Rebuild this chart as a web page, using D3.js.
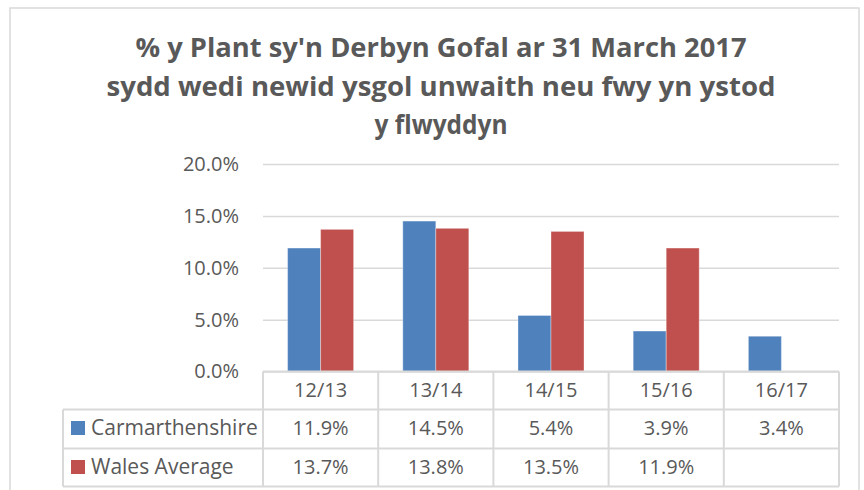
<!DOCTYPE html>
<html>
<head>
<meta charset="utf-8">
<script src="https://cdn.jsdelivr.net/npm/d3@7"></script>
<style>
  html, body { margin: 0; padding: 0; background: #ffffff; }
  svg { display: block; }
  text { font-family: "Open Sans", "Noto Sans", sans-serif; fill: #595959; }
</style>
</head>
<body>
<svg id="chart" width="864" height="490"></svg>
<script>
// ---- data ----
const categories = ["12/13", "13/14", "14/15", "15/16", "16/17"];
const carmarthenshire = [11.9, 14.5, 5.4, 3.9, 3.4];
const walesAverage = [13.7, 13.8, 13.5, 11.9, null];
const seriesNames = ["Carmarthenshire", "Wales Average"];
const seriesColors = ["#4f81bd", "#c0504d"];
const yTicks = [0, 5, 10, 15, 20];
const titleLines = [
  "% y Plant sy'n Derbyn Gofal ar 31 March 2017",
  "sydd wedi newid ysgol unwaith neu fwy yn ystod",
  "y flwyddyn"
];

const series = [carmarthenshire, walesAverage];

const svg = d3.select("#chart");
const W = 864, H = 490;

// outer chart border
svg.append("rect")
  .attr("x", 10).attr("y", 8).attr("width", 849).attr("height", 495)
  .attr("fill", "#fff").attr("stroke", "#d9d9d9").attr("stroke-width", 1.5);

// title
const titleWidths = [611, 669, 133];
const titleG = svg.append("g");
titleLines.forEach((t, i) => {
  titleG.append("text")
    .attr("x", 441).attr("y", 57 + i * 38.5)
    .attr("text-anchor", "middle")
    .attr("font-size", 27).attr("font-weight", "bold")
    .attr("textLength", titleWidths[i])
    .attr("lengthAdjust", "spacingAndGlyphs")
    .text(t);
});

// scales
const plotLeft = 263, plotRight = 839, plotTop = 164, plotBottom = 371.5;
const x = d3.scaleBand().domain(categories).range([plotLeft, plotRight]).paddingInner(0).paddingOuter(0);
const x1 = d3.scaleBand().domain(seriesNames).range([0, x.bandwidth()]).paddingInner(0).paddingOuter(0.745);
const y = d3.scaleLinear().domain([0, 20]).range([plotBottom, plotTop]);

// y axis with gridlines
const yAxis = d3.axisLeft(y)
  .tickValues(yTicks)
  .tickFormat(d => d.toFixed(1) + "%")
  .tickSize(-(plotRight - plotLeft))
  .tickPadding(24);
const yg = svg.append("g").attr("transform", `translate(${plotLeft},0)`).call(yAxis);
yg.select(".domain").remove();
yg.selectAll(".tick line").attr("stroke", "#d9d9d9").attr("stroke-width", 1.5);
yg.selectAll(".tick text")
  .attr("font-size", 20).attr("fill", "#595959")
  .style("font-family", '"Open Sans", "Noto Sans", sans-serif');

// bars
const groups = svg.append("g").selectAll("g")
  .data(categories).join("g")
  .attr("transform", d => `translate(${x(d)},0)`);
groups.selectAll("rect")
  .data((d, i) => seriesNames.map((s, k) => ({ s, k, v: series[k][i] })).filter(e => e.v !== null))
  .join("rect")
  .attr("x", e => x1(e.s))
  .attr("width", x1.bandwidth())
  .attr("y", e => y(e.v))
  .attr("height", e => y(0) - y(e.v))
  .attr("fill", e => seriesColors[e.k])
  .attr("stroke", "#ffffff").attr("stroke-opacity", 0.35).attr("stroke-width", 1);

// data table
const rowTops = [plotBottom, 409.5, 448.5, 486.5];
const tableLeft = 63;
const lineColor = "#d9d9d9";
const tg = svg.append("g");
// horizontal lines
tg.append("line").attr("x1", plotLeft).attr("x2", plotRight).attr("y1", rowTops[0]).attr("y2", rowTops[0]);
[1, 2, 3].forEach(r => {
  tg.append("line").attr("x1", tableLeft).attr("x2", plotRight).attr("y1", rowTops[r]).attr("y2", rowTops[r]);
});
// vertical lines
categories.forEach(c => {
  tg.append("line").attr("x1", x(c)).attr("x2", x(c)).attr("y1", rowTops[0]).attr("y2", rowTops[3]);
});
tg.append("line").attr("x1", plotRight).attr("x2", plotRight).attr("y1", rowTops[0]).attr("y2", rowTops[3]);
tg.append("line").attr("x1", tableLeft).attr("x2", tableLeft).attr("y1", rowTops[1]).attr("y2", rowTops[3]);
tg.selectAll("line").attr("stroke", lineColor).attr("stroke-width", 2);

// header labels
categories.forEach(c => {
  tg.append("text")
    .attr("x", x(c) + x.bandwidth() / 2).attr("y", rowTops[0] + 25.5)
    .attr("text-anchor", "middle").attr("font-size", 20)
    .text(c);
});
// series rows
series.forEach((vals, k) => {
  const top = rowTops[k + 1];
  tg.append("rect")
    .attr("x", 71).attr("y", top + 11.5).attr("width", 14).attr("height", 14)
    .attr("fill", seriesColors[k]);
  tg.append("text")
    .attr("x", 91).attr("y", top + 25.5)
    .attr("font-size", 21)
    .text(seriesNames[k]);
  vals.forEach((v, i) => {
    if (v === null) return;
    tg.append("text")
      .attr("x", x(categories[i]) + x.bandwidth() / 2).attr("y", top + 25.5)
      .attr("text-anchor", "middle").attr("font-size", 20)
      .text(v.toFixed(1) + "%");
  });
});
</script>
</body>
</html>
